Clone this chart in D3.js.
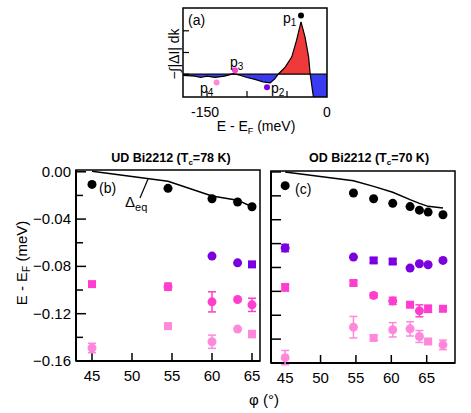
<!DOCTYPE html>
<html>
<head>
<meta charset="utf-8">
<script src="https://cdn.jsdelivr.net/npm/d3@7"></script>
<style>
body{margin:0;background:#fff;}
svg text{font-family:"Liberation Sans",Arial,sans-serif;}
</style>
</head>
<body>
<svg id="chart" width="471" height="413"></svg>
<script>
// panel (a): integrated difference curve
var aE   = [-180,-165,-158,-150,-140,-128,-117,-109,-100,-90,-80,-71,-65,-61,-52,-44,-38,-32.5,-27.5,-23,-21,-17,-9,0];
var aVal = [-0.05,-0.09,-0.15,-0.09,-0.15,-0.09,0.03,-0.05,-0.15,-0.24,-0.35,-0.4,-0.2,0,0.34,0.8,1.57,2.41,1.72,0.8,0,-1.05,-2.5,-3.2];
var aDots = [
  {name:"1", e:-32.5, v:2.7, c:"#000000"},
  {name:"2", e:-75, v:-0.6, c:"#7b00e0"},
  {name:"3", e:-115, v:0.18, c:"#ff3dce"},
  {name:"4", e:-138, v:-0.38, c:"#ff88dc"}
];

// panel (b): UD Bi2212
var phiUD = [45, 54.5, 60, 63.2, 65];
var eqUD  = [0.0005, -0.008, -0.0205, -0.024, -0.0296];
var p1UD  = [-0.0107, -0.014, -0.0228, -0.0256, -0.0296];
var p2UD  = [null, null, -0.0713, -0.077, -0.0783];
var p2UDerr = [0, 0, 0, 0, 0.0015];
var p2UDshape = ["c","c","c","c","s"];
var p3UD  = [-0.095, -0.0972, -0.110, -0.108, -0.1125];
var p3UDerr = [0.002, 0.003, 0.0085, 0, 0.0056];
var p3UDshape = ["s","c","c","c","c"];
var p4UD  = [-0.149, -0.1305, -0.1437, -0.133, -0.1372];
var p4UDerr = [0.004, 0.002, 0.0056, 0, 0.003];
var p4UDshape = ["c","s","c","c","s"];

// panel (c): OD Bi2212
var phiOD = [45, 54.65, 57.5, 60.2, 62.65, 63.97, 65.2, 67.3];
var eqOD  = [0.0, -0.0073, -0.0121, -0.017, -0.0232, -0.0263, -0.0288, -0.0302];
var p1OD  = [-0.0115, -0.0176, -0.0224, -0.0263, -0.029, -0.032, -0.0336, -0.0358];
var p2OD  = [-0.0637, -0.0713, -0.0741, -0.075, -0.0805, -0.0769, -0.0777, -0.0741];
var p2ODerr = [0.003, 0, 0.002, 0.002, 0, 0, 0, 0];
var p2ODshape = ["c","c","s","s","c","c","c","c"];
var p3OD  = [-0.0967, -0.093, -0.1034, -0.108, -0.1112, -0.1163, -0.1146, -0.1146];
var p3ODerr = [0.003, 0.002, 0.002, 0.003, 0.002, 0.005, 0.003, 0.002];
var p3ODshape = ["s","s","c","c","s","c","s","s"];
var p4OD  = [-0.1555, -0.130, -0.139, -0.1322, -0.1314, -0.1378, -0.142, -0.1448];
var p4ODerr = [0.006, 0.009, 0.002, 0.006, 0.006, 0.005, 0.002, 0.004];
var p4ODshape = ["c","c","s","c","c","c","s","c"];

var phiTicks = [45, 50, 55, 60, 65];
var yTicks = [0, -0.02, -0.04, -0.06, -0.08, -0.10, -0.12, -0.14, -0.16];

var colors = {p1:"#000000", p2:"#7b00e0", p3:"#ff3dce", p4:"#ff88dc"};

var svg = d3.select("#chart");

// ---------- panel (a) ----------
var ax = d3.scaleLinear().domain([-180, 0]).range([183, 327]);
var ay = d3.scaleLinear().domain([-1.05, 3.05]).range([97, 8]);
var aData = aE.map(function(e, i){ return {e:e, v:aVal[i]}; });

svg.append("clipPath").attr("id","clipA")
  .append("rect").attr("x",183).attr("y",8).attr("width",144).attr("height",89);

var ga = svg.append("g");
var gclip = ga.append("g").attr("clip-path","url(#clipA)");
gclip.append("path").datum(aData)
  .attr("fill","#f03a3a")
  .attr("d", d3.area().x(function(d){ return ax(d.e); }).y0(ay(0)).y1(function(d){ return ay(Math.max(d.v,0)); }));
gclip.append("path").datum(aData)
  .attr("fill","#3a3af0")
  .attr("d", d3.area().x(function(d){ return ax(d.e); }).y0(ay(0)).y1(function(d){ return ay(Math.min(d.v,0)); }));
gclip.append("line").attr("x1",183).attr("x2",327).attr("y1",ay(0)).attr("y2",ay(0))
  .attr("stroke","#000").attr("stroke-width",1.2);
gclip.append("path").datum(aData)
  .attr("fill","none").attr("stroke","#000").attr("stroke-width",1.2)
  .attr("d", d3.line().x(function(d){ return ax(d.e); }).y(function(d){ return ay(d.v); }));

ga.append("rect").attr("x",183).attr("y",8).attr("width",144).attr("height",89)
  .attr("fill","none").attr("stroke","#000").attr("stroke-width",1.5);

[-150,-100,-50].forEach(function(t){
  ga.append("line").attr("x1",ax(t)).attr("x2",ax(t)).attr("y1",97).attr("y2",91)
    .attr("stroke","#000").attr("stroke-width",1.2);
});
[0,1,2].forEach(function(t){
  ga.append("line").attr("x1",183).attr("x2",189).attr("y1",ay(t)).attr("y2",ay(t))
    .attr("stroke","#000").attr("stroke-width",1.2);
});
ga.append("text").attr("x",ax(-150)-2).attr("y",117).attr("text-anchor","middle")
  .attr("font-size",14).text("-150");
ga.append("text").attr("x",ax(0)).attr("y",117).attr("text-anchor","middle")
  .attr("font-size",14).text("0");
var axl = ga.append("text").attr("x",256).attr("y",131).attr("text-anchor","middle").attr("font-size",14);
axl.append("tspan").text("E - E");
axl.append("tspan").attr("font-size",9).attr("dy",3).text("F");
axl.append("tspan").attr("dy",-3).text(" (meV)");
ga.append("text").attr("transform","translate(179,54) rotate(-90)")
  .attr("text-anchor","middle").attr("font-size",14).text("−∫|ΔI| dk");
ga.append("text").attr("x",188).attr("y",25).attr("font-size",14).text("(a)");

ga.selectAll(".adot").data(aDots).enter().append("circle")
  .attr("cx",function(d){ return ax(d.e); }).attr("cy",function(d){ return ay(d.v); })
  .attr("r",3).attr("fill",function(d){ return d.c; });
var pLab = [{n:"1",x:283,y:23},{n:"2",x:271,y:93},{n:"3",x:230,y:67},{n:"4",x:200,y:93}];
pLab.forEach(function(p){
  var t = ga.append("text").attr("x",p.x).attr("y",p.y).attr("font-size",14);
  t.append("tspan").text("p");
  t.append("tspan").attr("font-size",10).attr("dy",3).text(p.n);
});

// ---------- panels (b) and (c) ----------
function panel(cfg){
  var x = d3.scaleLinear().domain(cfg.xdom).range([cfg.left, cfg.right]);
  var y = d3.scaleLinear().domain(cfg.ydom).range([cfg.bottom, cfg.top]);
  var g = svg.append("g");

  g.append("rect").attr("x",cfg.left).attr("y",cfg.top)
    .attr("width",cfg.right-cfg.left).attr("height",cfg.bottom-cfg.top)
    .attr("fill","none").attr("stroke","#000").attr("stroke-width",1.5);
  g.append("line").attr("x1",cfg.left).attr("x2",cfg.left).attr("y1",cfg.top).attr("y2",cfg.bottom)
    .attr("stroke","#000").attr("stroke-width",2);
  g.append("line").attr("x1",cfg.left).attr("x2",cfg.right).attr("y1",cfg.bottom).attr("y2",cfg.bottom)
    .attr("stroke","#000").attr("stroke-width",2);

  yTicks.forEach(function(t, i){
    var major = (i % 2 === 0);
    var len = (major || cfg.longMinor) ? 10 : 7;
    g.append("line").attr("x1",cfg.left).attr("x2",cfg.left+len).attr("y1",y(t)).attr("y2",y(t))
      .attr("stroke","#000").attr("stroke-width",1.5);
    if(major && cfg.ylabels){
      g.append("text").attr("x",cfg.left-5).attr("y",y(t)+5).attr("text-anchor","end")
        .attr("font-size",15).text(t === 0 ? "0.00" : d3.format(".2f")(t));
    }
  });
  phiTicks.forEach(function(t){
    g.append("line").attr("x1",x(t)).attr("x2",x(t)).attr("y1",cfg.bottom).attr("y2",cfg.bottom-8)
      .attr("stroke","#000").attr("stroke-width",1.5);
    g.append("text").attr("x",x(t)).attr("y",cfg.bottom+20).attr("text-anchor","middle")
      .attr("font-size",15).text(t);
  });

  var tt = g.append("text").attr("x",cfg.titleX).attr("y",162).attr("text-anchor","middle")
    .attr("font-size",12.5).attr("font-weight","bold");
  tt.append("tspan").text(cfg.title1 + " (T");
  tt.append("tspan").attr("font-size",8).attr("dy",3).text("c");
  tt.append("tspan").attr("dy",-3).text(cfg.title2);

  g.append("text").attr("x",cfg.tagX).attr("y",cfg.tagY).attr("font-size",14).text(cfg.tag);

  // equilibrium gap line
  var eq = cfg.phi.map(function(p, i){ return [p, cfg.eq[i]]; });
  g.append("path").datum(eq).attr("fill","none").attr("stroke","#000").attr("stroke-width",1.5)
    .attr("d", d3.line().x(function(d){ return x(d[0]); }).y(function(d){ return y(d[1]); }));

  cfg.series.forEach(function(s){
    var pts = cfg.phi.map(function(p, i){
      return {p:p, v:s.v[i], e:s.err ? s.err[i] : 0, sh:s.shape ? s.shape[i] : "c"};
    }).filter(function(d){ return d.v !== null; });
    var sg = g.append("g");
    pts.forEach(function(d){
      if(d.e > 0){
        sg.append("line").attr("x1",x(d.p)).attr("x2",x(d.p)).attr("y1",y(d.v-d.e)).attr("y2",y(d.v+d.e))
          .attr("stroke",s.c).attr("stroke-width",1.5);
        [d.v-d.e, d.v+d.e].forEach(function(yy){
          sg.append("line").attr("x1",x(d.p)-4).attr("x2",x(d.p)+4).attr("y1",y(yy)).attr("y2",y(yy))
            .attr("stroke",s.c).attr("stroke-width",1.5);
        });
      }
      if(d.sh === "s"){
        sg.append("rect").attr("x",x(d.p)-4).attr("y",y(d.v)-4).attr("width",8).attr("height",8)
          .attr("fill",s.c);
      } else {
        sg.append("circle").attr("cx",x(d.p)).attr("cy",y(d.v)).attr("r",4.5).attr("fill",s.c);
      }
    });
  });
  return {x:x, y:y, g:g};
}

var pb = panel({
  left:76, right:260, top:170, bottom:361, xdom:[43,66], ydom:[-0.16,0.0015],
  ylabels:true, longMinor:false, titleX:171, title1:"UD Bi2212", title2:"=78 K)",
  tag:"(b)", tagX:99, tagY:193, phi:phiUD, eq:eqUD,
  series:[
    {v:p1UD, c:colors.p1},
    {v:p2UD, err:p2UDerr, shape:p2UDshape, c:colors.p2},
    {v:p3UD, err:p3UDerr, shape:p3UDshape, c:colors.p3},
    {v:p4UD, err:p4UDerr, shape:p4UDshape, c:colors.p4}
  ]
});
var pc = panel({
  left:271, right:455, top:171, bottom:363, xdom:[43,69], ydom:[-0.16,0.0008],
  ylabels:false, longMinor:true, titleX:369, title1:"OD Bi2212", title2:"=70 K)",
  tag:"(c)", tagX:295, tagY:194, phi:phiOD, eq:eqOD,
  series:[
    {v:p1OD, c:colors.p1},
    {v:p2OD, err:p2ODerr, shape:p2ODshape, c:colors.p2},
    {v:p3OD, err:p3ODerr, shape:p3ODshape, c:colors.p3},
    {v:p4OD, err:p4ODerr, shape:p4ODshape, c:colors.p4}
  ]
});

// Delta_eq annotation in panel (b)
pb.g.append("line").attr("x1",148).attr("y1",179).attr("x2",140).attr("y2",198)
  .attr("stroke","#000").attr("stroke-width",1.2);
var dl = pb.g.append("text").attr("x",125).attr("y",207).attr("font-size",15);
dl.append("tspan").text("Δ");
dl.append("tspan").attr("font-size",11).attr("dy",4).text("eq");

// shared axis labels
var yl = svg.append("text").attr("transform","translate(27,263) rotate(-90)")
  .attr("text-anchor","middle").attr("font-size",15);
yl.append("tspan").text("E - E");
yl.append("tspan").attr("font-size",10).attr("dy",3).text("F");
yl.append("tspan").attr("dy",-3).text(" (meV)");
svg.append("text").attr("x",264).attr("y",405).attr("text-anchor","middle")
  .attr("font-size",15).text("φ (°)");
</script>
</body>
</html>
